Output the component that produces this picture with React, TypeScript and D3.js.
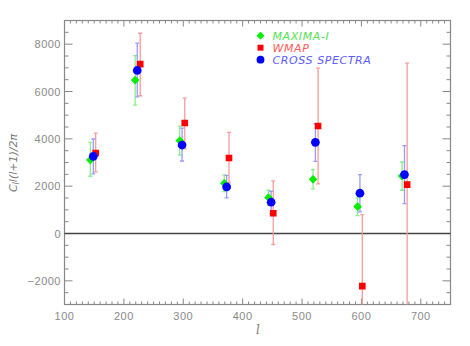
import React from "react";
import * as d3 from "d3";

// multipole positions and C_l l(l+1)/2pi values
const maximaL = [143.5, 219, 294, 369, 443.5, 518.5, 593.5, 668.5];
const maximaV = [3107, 6480, 3922, 2123, 1518, 2291, 1139, 2432];
const maximaLo = [2418, 5426, 3317, 1771, 1195, 1884, 759, 1827];
const maximaHi = [3852, 7520, 4540, 2474, 1827, 2699, 1504, 3022];

const wmapL = [152.5, 227.5, 302.5, 377, 451.5, 527, 601.5, 677];
const wmapV = [3402, 7155, 4667, 3191, 857, 4540, -2221, 2066];
const wmapLo = [2600, 5820, 3584, 2137, -464, 2094, -3600, -3600];
const wmapHi = [4245, 8462, 5721, 4273, 2221, 6986, 801, 7197];

const crossL = [148.5, 222.5, 298, 373, 448, 522.5, 597.5, 672.5];
const crossV = [3261, 6888, 3739, 1968, 1321, 3852, 1701, 2488];
const crossLo = [2516, 5777, 3064, 1504, 829, 3050, 914, 1265];
const crossHi = [3992, 8040, 4456, 2460, 1785, 4639, 2488, 3711];

const xTicks = [100, 200, 300, 400, 500, 600, 700];
const yTicks = [-2000, 0, 2000, 4000, 6000, 8000];

const W = 470;
const H = 346;
const m = { left: 64.5, right: 450.5, top: 20.5, bottom: 304.5 };

const series = [
  { name: "MAXIMA-I", l: maximaL, v: maximaV, lo: maximaLo, hi: maximaHi, color: "#00ee00", bar: "#88f088", text: "#55e055", sym: d3.symbolSquare, size: 26, rot: 45 },
  { name: "WMAP", l: wmapL, v: wmapV, lo: wmapLo, hi: wmapHi, color: "#ff0000", bar: "#ff9a9a", text: "#ff5a5a", sym: d3.symbolSquare, size: 44, rot: 0 },
  { name: "CROSS SPECTRA", l: crossL, v: crossV, lo: crossLo, hi: crossHi, color: "#0000ff", bar: "#9a9aff", text: "#5a5aff", sym: d3.symbolCircle, size: 60, rot: 0 },
];

export default function App() {
  const x = d3.scaleLinear().domain([100, 750]).range([m.left, m.right]);
  const y = d3.scaleLinear().domain([-3000, 9000]).range([m.bottom, m.top]);

  const xMinor = d3.range(100, 751, 10);
  const yMinor = d3.range(-3000, 9001, 500);
  const axisColor = "#888";
  const labelColor = "#8a8a8a";

  return (
    <svg width={W} height={H} style={{ position: "absolute", left: 0, top: 0 }}>
      <rect width={W} height={H} fill="#fff" />
      <defs>
        <clipPath id="plot">
          <rect x={m.left} y={m.top} width={m.right - m.left} height={m.bottom - m.top} />
        </clipPath>
      </defs>

      {/* x ticks, bottom and top */}
      {xMinor.map((t) => {
        const len = t % 100 === 0 ? 6 : 3;
        return (
          <g key={"xt" + t} stroke={axisColor} strokeWidth={1}>
            <line x1={x(t)} x2={x(t)} y1={m.bottom} y2={m.bottom - len} />
            <line x1={x(t)} x2={x(t)} y1={m.top} y2={m.top + len} />
          </g>
        );
      })}
      {yMinor.map((t) => {
        const len = t % 2000 === 0 ? 8 : 4;
        return (
          <g key={"yt" + t} stroke={axisColor} strokeWidth={1}>
            <line x1={m.left} x2={m.left + len} y1={y(t)} y2={y(t)} />
            <line x1={m.right} x2={m.right - len} y1={y(t)} y2={y(t)} />
          </g>
        );
      })}
      <rect x={m.left} y={m.top} width={m.right - m.left} height={m.bottom - m.top} fill="none" stroke={axisColor} strokeWidth={1.2} />

      {xTicks.map((t) => (
        <text key={"xl" + t} x={x(t)} y={320} textAnchor="middle" fontFamily="Liberation Sans, sans-serif" fontSize={11} letterSpacing={0.5} fill={labelColor}>
          {t}
        </text>
      ))}
      {yTicks.map((t) => (
        <text key={"yl" + t} x={61} y={y(t) + 4} textAnchor="end" fontFamily="Liberation Sans, sans-serif" fontSize={11} letterSpacing={0.5} fill={labelColor}>
          {t < 0 ? "\u2212" + Math.abs(t) : t}
        </text>
      ))}

      <text x={258} y={334} textAnchor="middle" fontFamily="DejaVu Serif, serif" fontStyle="italic" fontSize={12} fill="#777">
        l
      </text>
      <text transform={`translate(17,163) rotate(-90)`} textAnchor="middle" fontFamily="DejaVu Sans, sans-serif" fontStyle="italic" fontSize={11} fill="#777">
        C<tspan fontSize={8} dy={2}>l</tspan><tspan dy={-2}>l(l+1)/2π</tspan>
      </text>

      {/* zero line */}
      <line x1={m.left} x2={m.right} y1={y(0)} y2={y(0)} stroke="#444" strokeWidth={1.5} />

      <g clipPath="url(#plot)">
        {series.map((s) => (
          <g key={s.name}>
            {s.l.map((l, i) => (
              <g key={i} stroke={s.bar} strokeWidth={1.3}>
                <line x1={x(l)} x2={x(l)} y1={y(s.lo[i])} y2={y(s.hi[i])} />
                <line x1={x(l) - 2} x2={x(l) + 2} y1={y(s.lo[i])} y2={y(s.lo[i])} />
                <line x1={x(l) - 2} x2={x(l) + 2} y1={y(s.hi[i])} y2={y(s.hi[i])} />
              </g>
            ))}
          </g>
        ))}
        {series.map((s) => (
          <g key={s.name + "m"}>
            {s.l.map((l, i) => (
              <path key={i} transform={`translate(${x(l)},${y(s.v[i])}) rotate(${s.rot})`} d={d3.symbol(s.sym, s.size)() || ""} fill={s.color} stroke={s.rot ? s.color : "none"} strokeWidth={1} strokeLinejoin="round" />
            ))}
          </g>
        ))}
      </g>

      {/* legend */}
      {series.map((s, i) => (
        <g key={s.name + "lg"} transform={`translate(260.5,${35.7 + i * 12})`}>
          <path transform={`rotate(${s.rot})`} d={d3.symbol(s.sym, s.size * 0.8)() || ""} fill={s.color} stroke={s.rot ? s.color : "none"} strokeWidth={1} strokeLinejoin="round" />
          <text x={12} y={4} fontFamily="DejaVu Sans, sans-serif" fontStyle="italic" fontSize={11} letterSpacing={0.6} fill={s.text}>
            {s.name}
          </text>
        </g>
      ))}
    </svg>
  );
}
